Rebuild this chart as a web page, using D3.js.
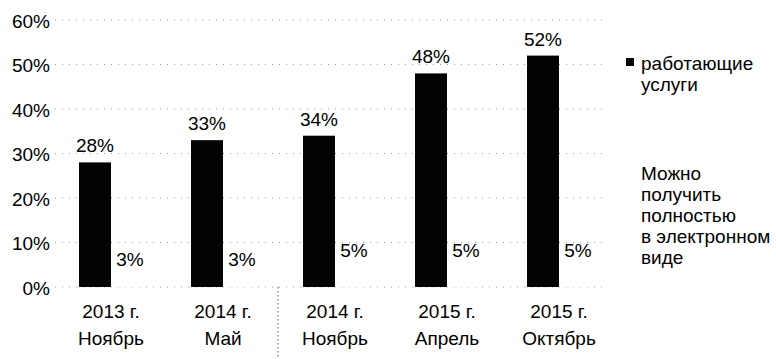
<!DOCTYPE html>
<html>
<head>
<meta charset="utf-8">
<script src="https://cdn.jsdelivr.net/npm/d3@7/dist/d3.min.js"></script>
<style>
  html, body { margin: 0; padding: 0; background: #fff; }
  svg text { font-family: "Liberation Sans", Arial, sans-serif; fill: #000; }
</style>
</head>
<body>
<svg id="chart" width="776" height="359"></svg>
<script>
// Periods (year line, month line)
const years  = ["2013 г.", "2014 г.", "2014 г.", "2015 г.", "2015 г."];
const months = ["Ноябрь", "Май", "Ноябрь", "Апрель", "Октябрь"];
const periods = years.map((y, i) => i);

// Share of services, %
const working    = [28, 33, 34, 48, 52]; // работающие услуги
const electronic = [3, 3, 5, 5, 5];      // можно получить полностью в электронном виде

const yTicks = [0, 10, 20, 30, 40, 50, 60];
const legendWorking = ["работающие", "услуги"];
const legendElectronic = ["Можно", "получить", "полностью", "в электронном", "виде"];

const svg = d3.select("#chart");
const fontSize = 19;

const y = d3.scaleLinear().domain([0, 60]).range([287, 20]);
const x0 = d3.scaleBand().domain(periods).range([55, 615])
  .paddingInner(3 / 7).paddingOuter(1.5 / 7);
const x1 = d3.scaleBand().domain(["working", "electronic"]).range([0, x0.bandwidth()]);

// Faint dotted gridlines
svg.append("g").selectAll("line").data(yTicks).join("line")
  .attr("x1", 55).attr("x2", 608)
  .attr("y1", d => y(d)).attr("y2", d => y(d))
  .attr("stroke", "#9a9a9a").attr("stroke-width", 1)
  .attr("stroke-dasharray", "1,6");

// Y axis labels
const yAxis = d3.axisLeft(y).tickValues(yTicks).tickFormat(d => d + "%").tickSize(0).tickPadding(0);
const gy = svg.append("g").attr("transform", "translate(50,1)").call(yAxis);
gy.select(".domain").remove();
gy.selectAll("text").attr("font-size", fontSize)
  .attr("font-family", "Liberation Sans, Arial, sans-serif").attr("fill", "#000");

// Dotted separator below the axis
svg.append("line")
  .attr("x1", 278).attr("x2", 278).attr("y1", y(0)).attr("y2", 359)
  .attr("stroke", "#555").attr("stroke-width", 1).attr("stroke-dasharray", "1.5,2.5");

const groups = svg.append("g").selectAll("g").data(periods).join("g")
  .attr("transform", d => `translate(${x0(d)},0)`);

// Bars: working services (black), fully electronic (unfilled)
groups.append("rect")
  .attr("x", x1("working")).attr("width", x1.bandwidth())
  .attr("y", d => y(working[d])).attr("height", d => y(0) - y(working[d]))
  .attr("fill", "#030303");
groups.append("rect")
  .attr("x", x1("electronic")).attr("width", x1.bandwidth())
  .attr("y", d => y(electronic[d])).attr("height", d => y(0) - y(electronic[d]))
  .attr("fill", "#fff");

// Value labels
groups.append("text")
  .attr("x", x1("working") + x1.bandwidth() / 2)
  .attr("y", d => y(working[d]) - 10)
  .attr("text-anchor", "middle").attr("font-size", fontSize)
  .text(d => working[d] + "%");
groups.append("text")
  .attr("x", x1("electronic") + x1.bandwidth() / 2 + 3)
  .attr("y", d => y(electronic[d]) - 8)
  .attr("text-anchor", "middle").attr("font-size", fontSize)
  .text(d => electronic[d] + "%");

// Category labels
groups.append("text")
  .attr("x", x0.bandwidth() / 2).attr("y", 318)
  .attr("text-anchor", "middle").attr("font-size", fontSize)
  .text(d => years[d]);
groups.append("text")
  .attr("x", x0.bandwidth() / 2).attr("y", 345)
  .attr("text-anchor", "middle").attr("font-size", fontSize)
  .text(d => months[d]);

// Legend
const legend = svg.append("g");
legend.append("rect").attr("x", 626).attr("y", 58).attr("width", 8).attr("height", 8).attr("fill", "#030303");
legend.append("g").selectAll("text").data(legendWorking).join("text")
  .attr("x", 641).attr("y", (d, i) => 70 + i * 21)
  .attr("font-size", fontSize).text(d => d);
legend.append("g").selectAll("text").data(legendElectronic).join("text")
  .attr("x", 641).attr("y", (d, i) => 180 + i * 21)
  .attr("font-size", fontSize).text(d => d);
</script>
</body>
</html>
